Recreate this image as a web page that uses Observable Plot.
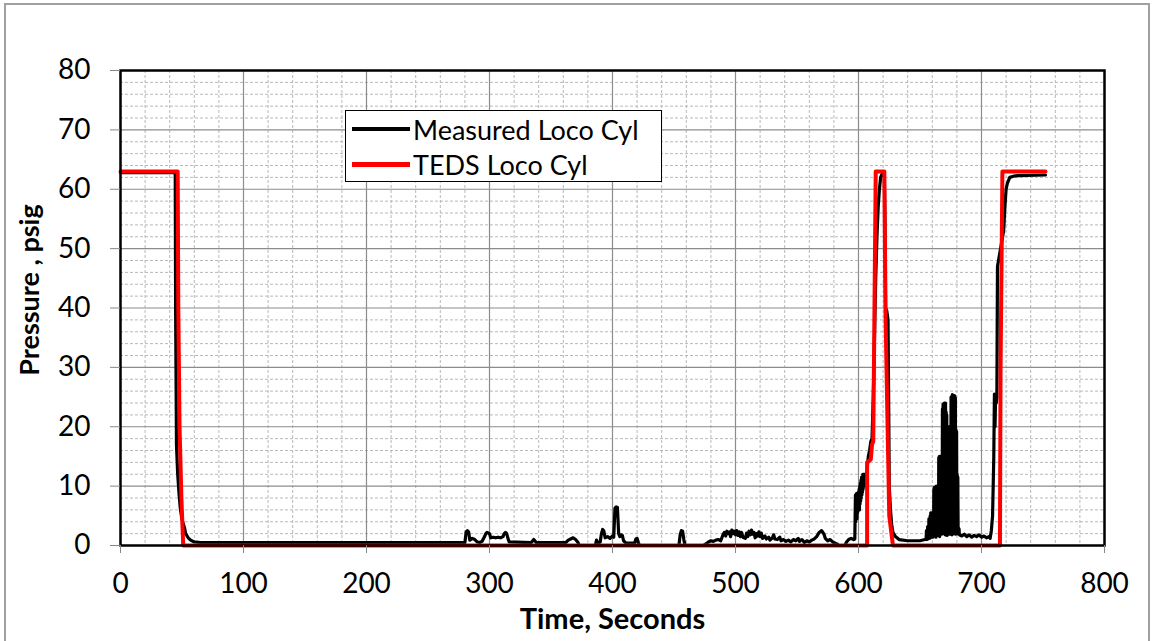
<!DOCTYPE html>
<html>
<head>
<meta charset="utf-8">
<script src="https://cdn.jsdelivr.net/npm/d3@7"></script>
<script src="https://cdn.jsdelivr.net/npm/@observablehq/plot@0.6"></script>
<style>
  html, body { margin: 0; padding: 0; background: #fff; }
  #wrap { position: relative; width: 1154px; height: 641px; overflow: hidden; font-family: Lato, "Open Sans", sans-serif; }
  #border { position: absolute; left: 4px; top: 3px; width: 1146px; height: 660px; border: 2px solid #a0a0a0; box-sizing: border-box; pointer-events: none; }
  #legend { position: absolute; left: 345px; top: 110px; width: 317px; height: 72px; border: 1.5px solid #000; background: #fff; box-sizing: border-box; }
  .item { position: absolute; left: 6px; height: 34px; display: flex; align-items: center; font-size: 27px; color: #000; white-space: nowrap; }
  .swatch { display: inline-block; width: 58px; margin-right: 3px; }
</style>
</head>
<body>
<div id="wrap">
  <div id="chart"></div>
  <div id="legend"></div>
  <div id="border"></div>
</div>
<script>
// ---- Data ----
const seriesNames = ["Measured Loco Cyl", "TEDS Loco Cyl"];
const seriesColors = ["#000000", "#ff0000"];

const xTicks = [0, 100, 200, 300, 400, 500, 600, 700, 800];
const yTicks = [0, 10, 20, 30, 40, 50, 60, 70, 80];

// TEDS Loco Cyl: [time s, pressure psig]
const tedsSeries = [
  [0, 63], [46.5, 63], [47, 40], [48, 20], [49.5, 8], [51, 0],
  [607, 0], [607, 14], [610, 14.5], [611, 17], [612, 17.5], [614, 63], [621, 63],
  [622, 38.5], [625, 5], [628, 0],
  [715, 0], [715.5, 30], [717, 63], [752, 63]
];

// Measured Loco Cyl: [time s, pressure psig]
const measuredSeries = [
  [0, 62.8], [44.5, 62.8], [44.8, 40], [45.5, 17], [46.5, 12], [47.5, 9], [48.5, 6.5], [49.5, 5],
  [50.5, 4], [52, 3], [53, 2], [55, 1.3], [57, 0.9], [60, 0.6], [65, 0.5],
  [280, 0.5], [281, 2.3], [282, 2.5], [283, 2.3], [284, 0.9], [286, 1.2], [288, 1.0], [290, 0.6],
  [292, 0.5], [294, 0.7], [296, 1.5], [297, 2.0], [298, 2.2], [300, 2.0], [301, 1.3], [303, 1.4],
  [305, 1.3], [307, 1.4], [309, 1.3], [311, 1.5], [312, 2.0], [313, 2.2], [314, 2.0], [315, 1.2], [316, 0.6],
  [334, 0.5], [336, 1.0], [338, 0.5], [362, 0.5], [364, 0.9], [366, 1.1], [368, 1.3], [370, 1.0],
  [372, 0.5], [373, 0], [386, 0], [387, 0.9], [388, 0.4], [390, 0.6], [391, 2.0], [392, 2.7], [393, 2.4],
  [394, 1.3], [396, 1.5], [398, 1.2], [400, 1.6], [401, 1.4], [402, 6.3], [403, 6.5], [404, 6.4],
  [405, 2.0], [406, 1.5], [407, 1.8], [408, 1.7], [409, 0.8], [411, 0.4],
  [418, 0.4], [419, 1.1], [420, 1.2], [421, 0.5], [422, 0], [454, 0], [455, 1.8], [456, 2.5], [457, 2.4],
  [458, 1.0], [459, 0], [474, 0],
  [476, 0.3], [478, 0.6], [480, 0.8], [482, 0.7], [484, 0.9], [486, 1.0], [488, 0.8], [490, 1.9],
  [491, 2.2], [492, 1.6], [493, 2.4], [494, 2.0], [495, 2.3], [496, 1.5], [497, 2.6], [498, 2.0],
  [499, 2.4], [500, 1.8], [501, 2.5], [502, 1.7], [503, 2.3], [504, 1.5], [505, 2.2], [506, 1.4],
  [508, 1.2], [509, 2.1], [510, 1.5], [511, 2.4], [512, 1.8], [513, 2.6], [514, 1.9], [515, 2.2],
  [516, 1.3], [517, 2.0], [518, 1.6], [519, 2.3], [520, 1.5], [521, 2.1], [522, 1.2], [524, 1.6],
  [525, 1.1], [527, 1.4], [528, 0.9], [530, 1.3], [531, 1.8], [532, 1.1], [534, 1.0], [536, 1.4],
  [537, 0.8], [539, 1.0], [541, 0.7], [543, 0.9], [545, 0.6], [547, 1.0], [549, 0.8], [551, 1.2],
  [552, 0.7], [554, 1.0], [556, 0.5], [558, 0.8], [560, 0.6], [562, 0.9], [564, 1.1], [566, 1.5],
  [568, 2.2], [570, 2.5], [572, 1.9], [573, 1.2], [575, 0.8], [577, 1.0], [579, 0.6], [581, 0.4],
  [583, 0.2], [584, 0], [589, 0], [590, 0.5], [592, 1.0], [594, 1.2], [596, 1.0], [597, 1.1],
  [597.5, 8.5], [597.75, 4], [598, 8.6], [598.25, 5], [598.5, 8.8], [598.75, 4.5], [599, 8.7], [599.25, 5.5],
  [599.5, 8.7], [599.75, 6], [600, 9], [600.25, 6.5], [600.5, 9.5], [600.75, 6], [601, 10], [601.25, 7],
  [601.5, 10.5], [601.75, 7.5], [602, 11], [602.25, 8], [602.5, 11.5], [602.75, 8.5], [603, 11.5], [603.25, 9],
  [603.5, 12], [603.75, 9.5], [604, 12], [604.5, 11], [605, 12], [606, 10], [607, 13], [608, 15], [609, 16],
  [610, 17.5], [611, 18],
  [612, 25], [613, 35], [614, 45], [615, 52], [616, 57], [617, 60], [618, 62], [619, 62.5], [621, 62.3],
  [621.5, 55], [622, 40], [623, 39.5], [624, 38], [624.5, 25], [625, 10], [626, 6], [627, 3.5], [628, 2.2],
  [630, 1.5], [633, 1.0], [640, 0.8], [650, 0.8], [654, 1.0],
  [655, 1.2], [655.25, 2.5], [655.5, 1.0], [655.75, 2.2], [656, 1.3], [656.25, 3.2], [656.5, 1.1], [656.75, 3.0],
  [657, 1.5], [657.25, 4.5], [657.5, 1.2], [657.75, 4.2], [658, 1.6], [658.25, 5.0], [658.5, 1.3], [658.75, 5.5],
  [659, 1.4], [659.25, 5.4], [659.5, 1.6], [659.75, 5.5], [660, 1.5], [660.25, 5.3], [660.5, 1.4], [660.75, 5.1],
  [661, 1.8], [661.25, 9.5], [661.5, 2.0], [661.75, 9.8], [662, 1.6], [662.25, 9.6], [662.5, 2.2], [662.75, 9.8],
  [663, 1.4], [663.25, 10.0], [663.5, 2.0], [663.75, 9.7], [664, 1.7], [664.25, 9.9], [664.5, 2.2], [664.75, 10.0],
  [665, 1.8], [665.25, 14.8], [665.5, 2.4], [665.75, 15.0], [666, 1.5], [666.25, 14.6], [666.5, 2.1], [666.75, 15.0],
  [667, 2.3], [667.25, 14.9], [667.5, 1.9], [667.75, 14.7], [668, 2.5], [668.25, 23.0], [668.5, 2.0], [668.75, 23.8],
  [669, 2.1], [669.25, 23.5], [669.5, 2.6], [669.75, 24.0], [670, 2.2], [670.25, 23.6], [670.5, 1.8], [670.75, 24.0],
  [671, 2.4], [671.25, 22.5], [671.5, 2.0], [671.75, 22.0], [672, 1.7], [672.25, 19.8], [672.5, 2.3], [672.75, 20.0],
  [673, 2.5], [673.25, 19.7], [673.5, 2.0], [673.75, 20.0], [674, 1.9], [674.25, 19.9], [674.5, 2.6], [674.75, 18.6],
  [675, 2.2], [675.25, 25.0], [675.5, 2.4], [675.75, 24.8], [676, 1.8], [676.25, 25.4], [676.5, 2.6], [676.75, 25.1],
  [677, 2.1], [677.25, 25.3], [677.5, 2.3], [677.75, 24.5], [678, 2.0], [678.25, 25.2], [678.5, 2.5], [678.75, 24.9],
  [679, 1.9], [679.25, 19.5], [679.5, 2.2], [679.75, 19.2], [680, 2.1], [680.25, 12.0], [680.5, 2.0], [680.75, 11.5],
  [681, 2.3], [681.25, 3.0], [681.5, 1.9], [681.75, 2.8], [682, 1.8],
  [684, 1.6], [686, 1.9], [688, 1.5], [690, 1.8], [692, 1.4], [694, 1.7], [696, 1.5], [698, 1.8],
  [700, 1.4], [702, 1.6], [704, 1.3], [706, 1.5], [707, 1.2], [708, 2.5], [709, 5], [710, 15],
  [710.5, 25.5], [711, 20], [711.5, 25.4], [712, 24], [712.5, 25], [713, 47],
  [718, 53], [719, 57], [720, 60], [721, 61], [723, 62], [726, 62.2], [730, 62.3], [752, 62.4]
];

// ---- Build tables ----
const teds = tedsSeries.map(([t, p]) => ({t, p}));
const meas = measuredSeries.map(([t, p]) => ({t, p}));

const minorX = d3.range(0, 801, 20).filter(v => v % 100 !== 0);
const minorY = d3.range(0, 81, 2).filter(v => v % 10 !== 0);

const chart = Plot.plot({
  width: 1154,
  height: 641,
  marginLeft: 120,
  marginRight: 50,
  marginTop: 70,
  marginBottom: 96,
  style: {fontFamily: "Lato, 'Open Sans', sans-serif", color: "#000", background: "transparent"},
  x: {domain: [0, 800], label: null},
  y: {domain: [0, 80], label: null},
  marks: [
    Plot.ruleX(minorX, {stroke: "#b8b8b8", strokeDasharray: "3,2", strokeWidth: 1}),
    Plot.ruleY(minorY, {stroke: "#b8b8b8", strokeDasharray: "3,2", strokeWidth: 1}),
    Plot.ruleX(xTicks, {stroke: "#8c8c8c", strokeWidth: 1.2}),
    Plot.ruleY(yTicks, {stroke: "#8c8c8c", strokeWidth: 1.2}),
    Plot.line(meas, {x: "t", y: "p", stroke: seriesColors[0], strokeWidth: 3.2}),
    Plot.line(teds, {x: "t", y: "p", stroke: seriesColors[1], strokeWidth: 4, strokeLinejoin: "round"}),
    Plot.frame({stroke: "#000", strokeWidth: 2.5}),
    Plot.axisX({ticks: xTicks, tickSize: 8, tickPadding: 20, fontSize: 28, stroke: "#888", label: null, tickFormat: d => String(d)}),
    Plot.axisY({ticks: yTicks, tickSize: 10, tickPadding: 20, fontSize: 28, stroke: "#888", label: null, tickFormat: d => String(d)}),
    Plot.text(["Time, Seconds"], {frameAnchor: "bottom", dy: 83, fontSize: 29, fontWeight: "bold", fill: "#000"}),
    Plot.text(["Pressure , psig"], {frameAnchor: "left", textAnchor: "middle", dx: -90, dy: -18, rotate: -90, fontSize: 27, fontWeight: "bold", fill: "#000"})
  ]
});
document.getElementById("chart").appendChild(chart);

// Legend
const legend = document.getElementById("legend");
seriesNames.forEach((name, i) => {
  const item = document.createElement("div");
  item.className = "item";
  item.style.top = (i * 35 + 1) + "px";
  const sw = document.createElement("span");
  sw.className = "swatch";
  sw.style.borderTop = (i === 0 ? 4 : 5) + "px solid " + seriesColors[i];
  item.appendChild(sw);
  const label = document.createElement("span");
  label.textContent = name;
  item.appendChild(label);
  legend.appendChild(item);
});
</script>
</body>
</html>
